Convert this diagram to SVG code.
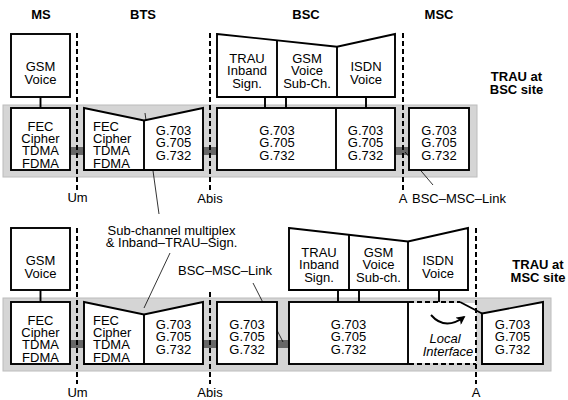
<svg xmlns="http://www.w3.org/2000/svg" width="568" height="400" viewBox="0 0 568 400">
<defs>
<style>
.band{fill:#d5d5d5;stroke:#bcbcbc;stroke-width:1}
.lnk{fill:#676767}
.box{fill:#fff;stroke:#000;stroke-width:1.9}
.ln{fill:none;stroke:#000;stroke-width:1.9}
.dl{fill:none;stroke:#000;stroke-width:2;stroke-dasharray:5 3}
.ptr{fill:none;stroke:#000;stroke-width:0.8}
text{font-family:"Liberation Sans",Arial,sans-serif;font-size:13px;fill:#000}
.c{text-anchor:middle}
.b{font-weight:bold}
.i{font-style:italic}
</style>
<marker id="ah" viewBox="0 0 10 10" refX="8" refY="5" markerWidth="10" markerHeight="9" markerUnits="userSpaceOnUse" orient="auto"><path d="M0,0 L10,5 L0,10 L2.5,5 Z" fill="#000"/></marker>
</defs>

<g id="headers">
<text class="c b" x="41" y="18.5">MS</text>
<text class="c b" x="143" y="18.5">BTS</text>
<text class="c b" x="306" y="18.5">BSC</text>
<text class="c b" x="439" y="18.5">MSC</text>
<text class="c b" x="516.5" y="80.5">TRAU at</text>
<text class="c b" x="516.5" y="93.5">BSC site</text>
<text class="c b" x="538" y="268.5">TRAU at</text>
<text class="c b" x="538" y="281.5">MSC site</text>
</g>

<rect class="band" x="3" y="105" width="474" height="72"/>
<rect class="band" x="3" y="298" width="548" height="73"/>

<g id="connectors">
<rect class="lnk" x="70" y="147" width="14" height="8"/>
<rect class="lnk" x="203" y="147" width="14" height="8"/>
<rect class="lnk" x="395" y="147" width="14" height="8"/>
<rect class="lnk" x="70" y="340" width="14" height="8"/>
<rect class="lnk" x="203" y="340" width="14" height="8"/>
<rect class="lnk" x="277" y="340" width="12" height="8"/>
<line class="ln" x1="40.5" y1="97" x2="40.5" y2="108"/>
<line class="ln" x1="265" y1="97" x2="265" y2="108"/>
<line class="ln" x1="286" y1="97" x2="286" y2="108"/>
<line class="ln" x1="366" y1="97" x2="366" y2="108"/>
<line class="ln" x1="40.5" y1="290" x2="40.5" y2="302"/>
<line class="ln" x1="338" y1="290" x2="338" y2="302"/>
<line class="ln" x1="359" y1="290" x2="359" y2="302"/>
<line class="ln" x1="439" y1="290" x2="439" y2="302"/>
<line class="ptr" x1="145" y1="113" x2="159" y2="214"/>
<line class="ptr" x1="170" y1="253" x2="144" y2="308"/>
<line class="ptr" x1="405" y1="152" x2="433" y2="185"/>
<line class="ptr" x1="253" y1="283" x2="283" y2="342"/>
</g>

<g id="ms-voice-top">
<rect class="box" x="11" y="34" width="59" height="63"/>
<text class="c" x="40.5" y="71">GSM</text>
<text class="c" x="40.5" y="83.5">Voice</text>
</g>
<g id="ms-l1-top">
<rect class="box" x="11" y="108" width="59" height="62"/>
<text class="c" x="40.5" y="130.7">FEC</text>
<text class="c" x="40.5" y="143">Cipher</text>
<text class="c" x="40.5" y="155.4">TDMA</text>
<text class="c" x="40.5" y="167.7">FDMA</text>
</g>
<g id="bts-top">
<path class="box" d="M84,108 L144,120.5 L203,108 L203,170 L84,170 Z"/>
<line class="ln" x1="144" y1="120.5" x2="144" y2="170"/>
<text x="93" y="130.7">FEC</text>
<text x="93" y="143">Cipher</text>
<text x="93" y="155.4">TDMA</text>
<text x="93" y="167.7">FDMA</text>
<text class="c" x="173.5" y="134.5">G.703</text>
<text class="c" x="173.5" y="147">G.705</text>
<text class="c" x="173.5" y="159.5">G.732</text>
</g>
<g id="bsc-upper-top">
<path class="box" d="M217,34 L337,46.7 L395,34 L395,97 L217,97 Z"/>
<line class="ln" x1="277" y1="40.3" x2="277" y2="97"/>
<line class="ln" x1="337" y1="46.7" x2="337" y2="97"/>
<text class="c" x="247" y="62.6">TRAU</text>
<text class="c" x="247" y="75.1">Inband</text>
<text class="c" x="247" y="87.6">Sign.</text>
<text class="c" x="307" y="62.6">GSM</text>
<text class="c" x="307" y="75.1">Voice</text>
<text class="c" x="307" y="87.6">Sub-Ch.</text>
<text class="c" x="366" y="71">ISDN</text>
<text class="c" x="366" y="83.5">Voice</text>
</g>
<g id="bsc-lower-top">
<rect class="box" x="217" y="108" width="178" height="62"/>
<line class="ln" x1="336" y1="108" x2="336" y2="170"/>
<text class="c" x="277" y="134.5">G.703</text>
<text class="c" x="277" y="147">G.705</text>
<text class="c" x="277" y="159.5">G.732</text>
<text class="c" x="365.5" y="134.5">G.703</text>
<text class="c" x="365.5" y="147">G.705</text>
<text class="c" x="365.5" y="159.5">G.732</text>
</g>
<g id="msc-top">
<rect class="box" x="409" y="108" width="60" height="62"/>
<text class="c" x="439" y="134.5">G.703</text>
<text class="c" x="439" y="147">G.705</text>
<text class="c" x="439" y="159.5">G.732</text>
</g>

<g id="ms-voice-bot">
<rect class="box" x="11" y="228" width="59" height="62"/>
<text class="c" x="40.5" y="265">GSM</text>
<text class="c" x="40.5" y="277.5">Voice</text>
</g>
<g id="ms-l1-bot">
<rect class="box" x="11" y="302" width="59" height="62"/>
<text class="c" x="40.5" y="324.7">FEC</text>
<text class="c" x="40.5" y="337">Cipher</text>
<text class="c" x="40.5" y="349.4">TDMA</text>
<text class="c" x="40.5" y="361.7">FDMA</text>
</g>
<g id="bts-bot">
<path class="box" d="M84,302 L144,314.5 L203,302 L203,364 L84,364 Z"/>
<line class="ln" x1="144" y1="314.5" x2="144" y2="364"/>
<text x="93" y="324.7">FEC</text>
<text x="93" y="337">Cipher</text>
<text x="93" y="349.4">TDMA</text>
<text x="93" y="361.7">FDMA</text>
<text class="c" x="173.5" y="328.5">G.703</text>
<text class="c" x="173.5" y="341">G.705</text>
<text class="c" x="173.5" y="353.5">G.732</text>
</g>
<g id="bsc-g-bot">
<rect class="box" x="217" y="302" width="60" height="62"/>
<text class="c" x="247" y="328.5">G.703</text>
<text class="c" x="247" y="341">G.705</text>
<text class="c" x="247" y="353.5">G.732</text>
</g>
<g id="msc-upper-bot">
<path class="box" d="M289,228 L408,241.5 L468,228 L468,290 L289,290 Z"/>
<line class="ln" x1="349" y1="234.8" x2="349" y2="290"/>
<line class="ln" x1="408" y1="241.5" x2="408" y2="290"/>
<text class="c" x="319" y="256.6">TRAU</text>
<text class="c" x="319" y="269.1">Inband</text>
<text class="c" x="319" y="281.6">Sign.</text>
<text class="c" x="378.5" y="256.6">GSM</text>
<text class="c" x="378.5" y="269.1">Voice</text>
<text class="c" x="378.5" y="281.6">Sub-ch.</text>
<text class="c" x="438" y="265">ISDN</text>
<text class="c" x="438" y="277.5">Voice</text>
</g>
<g id="msc-g-bot">
<rect class="box" x="289" y="302" width="119" height="62"/>
<text class="c" x="348.5" y="328.5">G.703</text>
<text class="c" x="348.5" y="341">G.705</text>
<text class="c" x="348.5" y="353.5">G.732</text>
</g>
<g id="local-interface">
<rect x="409" y="303" width="67" height="60" fill="#fff"/>
<line class="dl" x1="409" y1="302" x2="460" y2="302" stroke-width="1.9"/>
<line class="dl" x1="409" y1="364" x2="476" y2="364" stroke-width="1.9"/>
<path d="M431,315 Q445,331 464,317" fill="none" stroke="#000" stroke-width="1.9" marker-end="url(#ah)"/>
<text class="c i" x="445" y="343">Local</text>
<text class="c i" x="448" y="355.5">Interface</text>
</g>
<g id="bsc-bot">
<path class="box" d="M482,313.5 L543,302 L543,364 L482,364 Z"/>
<line class="ln" x1="460" y1="302" x2="482" y2="313.5"/>
<text class="c" x="512.5" y="328.5">G.703</text>
<text class="c" x="512.5" y="341">G.705</text>
<text class="c" x="512.5" y="353.5">G.732</text>
</g>

<g id="interfaces">
<line class="dl" x1="77" y1="33" x2="77" y2="190"/>
<line class="dl" x1="210" y1="33" x2="210" y2="190"/>
<line class="dl" x1="403" y1="33" x2="403" y2="190"/>
<line class="dl" x1="77" y1="228" x2="77" y2="384"/>
<line class="dl" x1="210" y1="292" x2="210" y2="384"/>
<line class="dl" x1="476" y1="228" x2="476" y2="384"/>
<text class="c" x="77.5" y="202">Um</text>
<text class="c" x="210" y="202.5">Abis</text>
<text class="c" x="403" y="202.5">A</text>
<text class="c" x="77.5" y="396.5">Um</text>
<text class="c" x="210" y="396.5">Abis</text>
<text class="c" x="476" y="396.5">A</text>
</g>

<g id="labels">
<text class="c" x="171.5" y="235">Sub-channel multiplex</text>
<text class="c" x="171.5" y="247">&amp; Inband–TRAU–Sign.</text>
<text x="412" y="203">BSC–MSC–Link</text>
<text x="178" y="275">BSC–MSC–Link</text>
</g>
</svg>
